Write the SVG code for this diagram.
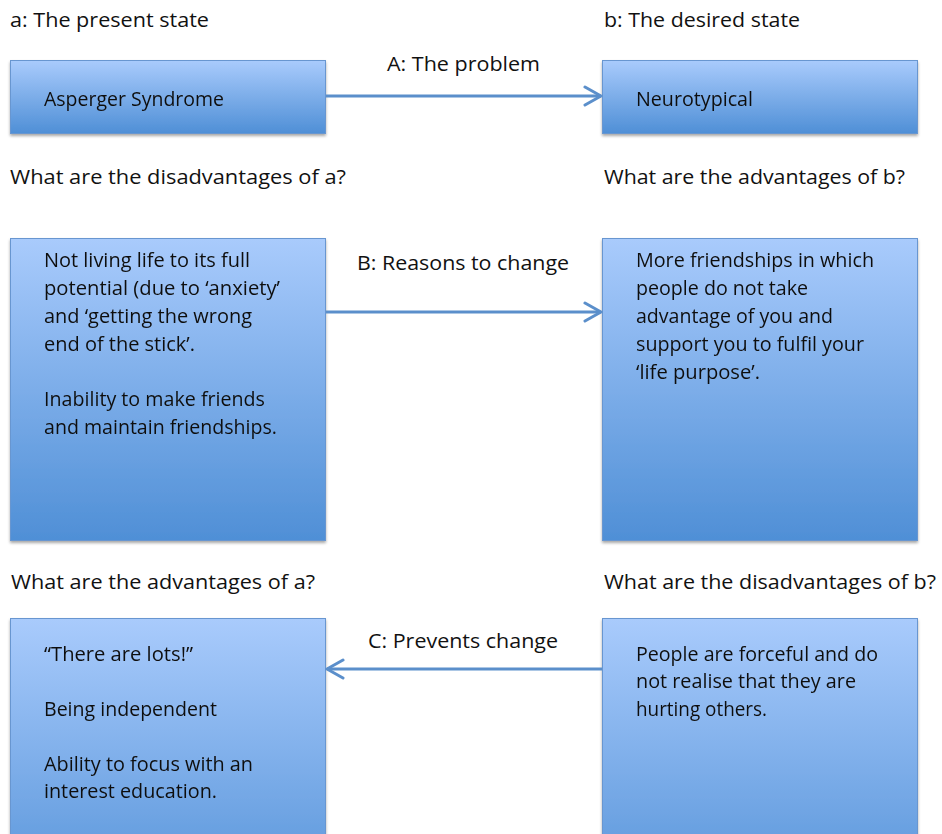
<svg xmlns="http://www.w3.org/2000/svg" width="942" height="834" viewBox="0 0 942 834">
<style>
text{font-family:"Open Sans","Liberation Sans",Arial,sans-serif;font-size:19.5px;fill:#111}
.box{fill:url(#g);stroke:#6896d0;stroke-width:1}
.con{stroke:#5b8fcb;stroke-width:3;fill:none}
</style>
<defs>
<linearGradient id="g" x1="0" y1="0" x2="0" y2="1">
<stop offset="0" stop-color="#a9cbfc"/>
<stop offset="1" stop-color="#4f8fd6"/>
</linearGradient>
<filter id="sh" x="-5%" y="-5%" width="110%" height="115%">
<feGaussianBlur in="SourceAlpha" stdDeviation="1.5"/>
<feOffset dx="0" dy="2" result="b"/>
<feComponentTransfer><feFuncA type="linear" slope="0.35"/></feComponentTransfer>
<feMerge><feMergeNode/><feMergeNode in="SourceGraphic"/></feMerge>
</filter>
<marker id="ah" viewBox="0 0 20 22" refX="18" refY="11" markerWidth="20" markerHeight="22" markerUnits="userSpaceOnUse" orient="auto">
<path d="M2,2 L18,11 L2,20" fill="none" stroke="#5b8fcb" stroke-width="3" stroke-linecap="round" stroke-linejoin="round"/>
</marker>
</defs>
<rect width="942" height="834" fill="#fff"/>

<g id="headers">
<text x="10" y="27" textLength="199" lengthAdjust="spacingAndGlyphs">a: The present state</text>
<text x="604" y="27" textLength="196" lengthAdjust="spacingAndGlyphs">b: The desired state</text>
<text x="10" y="184" textLength="336" lengthAdjust="spacingAndGlyphs">What are the disadvantages of a?</text>
<text x="604" y="184" textLength="301" lengthAdjust="spacingAndGlyphs">What are the advantages of b?</text>
<text x="11" y="589" textLength="304" lengthAdjust="spacingAndGlyphs">What are the advantages of a?</text>
<text x="604" y="589" textLength="332" lengthAdjust="spacingAndGlyphs">What are the disadvantages of b?</text>
</g>

<g id="n1" filter="url(#sh)">
<rect class="box" x="10.5" y="60.5" width="315" height="73"/>
<text x="44" y="106" textLength="180" lengthAdjust="spacingAndGlyphs">Asperger Syndrome</text>
</g>
<g id="n2" filter="url(#sh)">
<rect class="box" x="602.5" y="60.5" width="315" height="73"/>
<text x="636" y="106" textLength="117" lengthAdjust="spacingAndGlyphs">Neurotypical</text>
</g>
<g id="n3" filter="url(#sh)">
<rect class="box" x="10.5" y="238.5" width="315" height="302"/>
<text x="44" y="267" textLength="206" lengthAdjust="spacingAndGlyphs">Not living life to its full</text>
<text x="44" y="295" textLength="236" lengthAdjust="spacingAndGlyphs">potential (due to ‘anxiety’</text>
<text x="44" y="323" textLength="208" lengthAdjust="spacingAndGlyphs">and ‘getting the wrong</text>
<text x="44" y="351" textLength="151" lengthAdjust="spacingAndGlyphs">end of the stick’.</text>
<text x="44" y="406" textLength="221" lengthAdjust="spacingAndGlyphs">Inability to make friends</text>
<text x="44" y="434" textLength="233" lengthAdjust="spacingAndGlyphs">and maintain friendships.</text>
</g>
<g id="n4" filter="url(#sh)">
<rect class="box" x="602.5" y="238.5" width="315" height="302"/>
<text x="636" y="267" textLength="238" lengthAdjust="spacingAndGlyphs">More friendships in which</text>
<text x="636" y="295" textLength="172" lengthAdjust="spacingAndGlyphs">people do not take</text>
<text x="636" y="323" textLength="197" lengthAdjust="spacingAndGlyphs">advantage of you and</text>
<text x="636" y="351" textLength="228" lengthAdjust="spacingAndGlyphs">support you to fulfil your</text>
<text x="636" y="379" textLength="124" lengthAdjust="spacingAndGlyphs">‘life purpose’.</text>
</g>
<g id="n5" filter="url(#sh)">
<rect class="box" x="10.5" y="618.5" width="315" height="302"/>
<text x="44" y="661" textLength="149" lengthAdjust="spacingAndGlyphs">“There are lots!”</text>
<text x="44" y="716" textLength="173" lengthAdjust="spacingAndGlyphs">Being independent</text>
<text x="44" y="771" textLength="209" lengthAdjust="spacingAndGlyphs">Ability to focus with an</text>
<text x="44" y="798" textLength="173" lengthAdjust="spacingAndGlyphs">interest education.</text>
</g>
<g id="n6" filter="url(#sh)">
<rect class="box" x="602.5" y="618.5" width="315" height="302"/>
<text x="636" y="661" textLength="242" lengthAdjust="spacingAndGlyphs">People are forceful and do</text>
<text x="636" y="688" textLength="220" lengthAdjust="spacingAndGlyphs">not realise that they are</text>
<text x="636" y="716" textLength="131" lengthAdjust="spacingAndGlyphs">hurting others.</text>
</g>

<g id="connectors">
<line class="con" x1="326" y1="96" x2="601" y2="96" marker-end="url(#ah)"/>
<line class="con" x1="326" y1="312" x2="601" y2="312" marker-end="url(#ah)"/>
<line class="con" x1="602" y1="669" x2="327" y2="669" marker-end="url(#ah)"/>
<text x="387" y="71" textLength="153" lengthAdjust="spacingAndGlyphs">A: The problem</text>
<text x="357" y="270" textLength="212" lengthAdjust="spacingAndGlyphs">B: Reasons to change</text>
<text x="368" y="648" textLength="190" lengthAdjust="spacingAndGlyphs">C: Prevents change</text>
</g>
</svg>
